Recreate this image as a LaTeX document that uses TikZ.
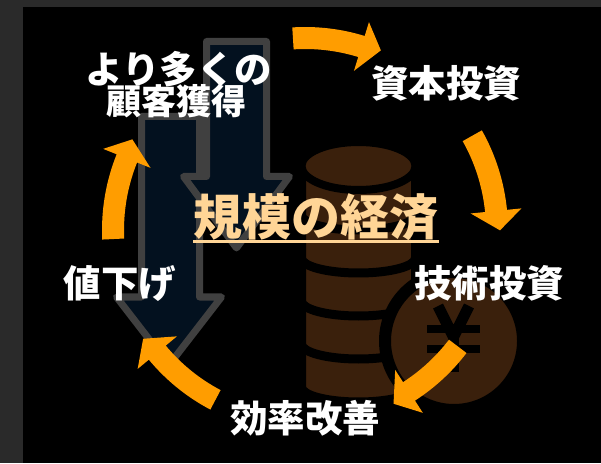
\documentclass[tikz,border=0pt]{standalone}
\usepackage{fontspec}
\newfontfamily\jp{Noto Sans CJK JP}
\usetikzlibrary{calc}
\definecolor{framegray}{RGB}{42,42,42}
\definecolor{cyclearrow}{RGB}{255,157,0}
\definecolor{coinbrown}{RGB}{58,32,12}
\definecolor{navyfill}{RGB}{3,17,31}
\definecolor{navyedge}{RGB}{64,64,64}
\definecolor{titlepeach}{RGB}{255,213,150}
\begin{document}
\begin{tikzpicture}[x=1pt,y=1pt,
  lbl/.style={text=white, font=\jp\bfseries\fontsize{37.5}{40}\selectfont, inner sep=0pt, anchor=base},
  downarrow/.style={fill=navyfill, draw=navyedge, line width=7pt, line join=round},
  coin/.style={fill=coinbrown, draw=black, line width=9pt},
  cycle arrow/.style={fill=cyclearrow}]
% canvas
\useasboundingbox (0,0) rectangle (601,463);
\fill[framegray] (0,0) rectangle (601,463);
\fill[black] (23,0) rectangle (601,456);

% two downward arrows in the background
\draw[downarrow] (141.5,346.5) -- (199.5,346.5) -- (199.5,166) -- (221.5,166)
  -- (169,98) -- (116.5,166) -- (141.5,166) -- cycle;
\draw[downarrow] (206.5,421.5) -- (266.5,421.5) -- (266.5,286.5) -- (289.5,286.5)
  -- (236.5,215) -- (183.5,286.5) -- (206.5,286.5) -- cycle;

% stack of coins, drawn from the bottom up
\foreach \i in {4,3,2,1,0}{
  \pgfmathsetmacro\cy{297-43*\i}
  \draw[coin] (301.5,\cy) arc[start angle=180, end angle=0, x radius=57, y radius=15]
    -- (415.5,\cy-49) arc[start angle=0, end angle=-180, x radius=57, y radius=15] -- cycle;
}
\draw[coin, line width=8pt] (358.5,297) ellipse[x radius=57, y radius=24];

% yen coin
\draw[fill=coinbrown, draw=black, line width=12pt] (454,122) circle[radius=69];
\draw[black, line width=11pt] (438,157) -- (453.5,126) -- (469,157);
\fill[black] (427,130) rectangle (480,138);
\fill[black] (427,110) rectangle (480,118);
\fill[black] (448,91) rectangle (459,130);

% cycle of orange arrows around the centre
\coordinate (C) at (305,233);
\foreach \a/\b in {93.6/72.9, 29.4/5.7, -37.3/-57.2, 242.2/219.7, 182.7/158.1}{
  \pgfmathsetmacro\t{\b-5.8}
  \fill[cycle arrow] ($(C)+(\a:203)$) arc[start angle=\a, end angle=\b, radius=203]
    -- ($(C)+(\b:217.5)$) -- ($(C)+(\t:195)$) -- ($(C)+(\b:166.5)$)
    -- ($(C)+(\b:181)$) arc[start angle=\b, end angle=\a, radius=181] -- cycle;
}

% labels
\node[lbl] (capital) at (446,365) {資本投資};
\node[lbl] (tech) at (489,165) {技術投資};
\node[lbl] (effic) at (305,31) {効率改善};
\node[lbl] (price) at (120,165) {値下げ};
\node[lbl, text depth=0pt] (more) at (179,379) {より多くの};
\node[lbl, text height=26pt, font=\jp\bfseries\fontsize{35}{38}\selectfont] (cust) at (176,348) {顧客獲得};
\node[lbl, text=titlepeach, font=\jp\bfseries\fontsize{49}{52}\selectfont] (title) at (316,227) {規模の経済};
\draw[titlepeach, line width=3pt] (title.west |- 0,221.5) -- (title.east |- 0,221.5);
\end{tikzpicture}
\end{document}
